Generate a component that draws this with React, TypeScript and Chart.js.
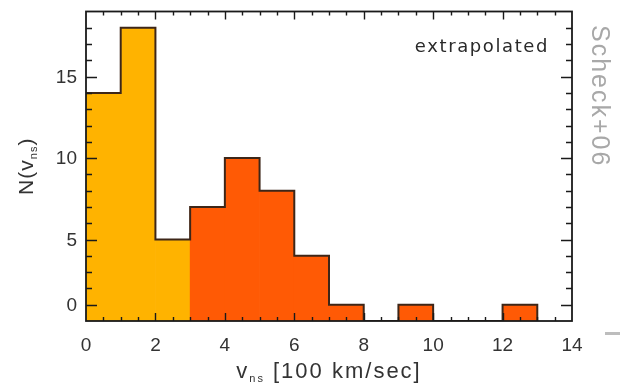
import React, { useEffect, useRef } from "react";
import { Chart, registerables } from "chart.js";

Chart.register(...registerables);

// ---- data ----
const binStarts = [0, 1, 2, 3, 4, 5, 6, 7, 8, 9, 10, 11, 12];
const counts = [14, 18, 5, 7, 10, 8, 4, 1, 0, 1, 0, 0, 1];
const binWidth = 1;
const splitAt = 3; // bins starting below this value use the light colour
const xTickValues = [0, 2, 4, 6, 8, 10, 12, 14];
const xTickLabels = ["0", "2", "4", "6", "8", "10", "12", "14"];
const yTickValues = [1, 5, 10, 15];
const yTickLabels = ["0", "5", "10", "15"];
const xMin = 0;
const xMax = 14;
const yMin = 0;
const yMax = 19;
const xMinorStep = 0.5;
const yMinorStep = 1;
const xTitle = { main: "v", sub: "ns", rest: " [100 km/sec]" };
const yTitle = { pre: "N(", main: "v", sub: "ns", post: ")" };
const annotationText = "extrapolated";
const creditText = "Scheck+06";

// ---- style ----
const lowColor = "#FFB300";
const highColor = "#FF5A05";
const stepColor = "#3d2618";
const frameColor = "#1a1a1a";
const textColor = "#333333";
const FONT = "'Liberation Sans', Arial, sans-serif";

const overlayPlugin = {
  id: "overlay",
  afterDraw(chart: any) {
    const { ctx, chartArea: a, scales } = chart;
    const xs = scales.x;
    const ys = scales.y;
    ctx.save();
    // inside ticks
    ctx.strokeStyle = frameColor;
    ctx.lineWidth = 1.4;
    ctx.beginPath();
    for (let v = xMin + xMinorStep; v < xMax - 1e-9; v += xMinorStep) {
      const px = Math.round(xs.getPixelForValue(v)) + 0.5;
      const major = xTickValues.includes(v);
      const len = major ? 8 : 4;
      ctx.moveTo(px, a.bottom);
      ctx.lineTo(px, a.bottom - len);
      ctx.moveTo(px, a.top);
      ctx.lineTo(px, a.top + len);
    }
    for (let v = yMin + yMinorStep; v < yMax - 1e-9; v += yMinorStep) {
      const py = Math.round(ys.getPixelForValue(v)) + 0.5;
      const major = yTickValues.includes(v);
      const len = major ? 11 : 6;
      ctx.moveTo(a.left, py);
      ctx.lineTo(a.left + len, py);
      ctx.moveTo(a.right, py);
      ctx.lineTo(a.right - len, py);
    }
    ctx.stroke();
    // frame
    ctx.lineWidth = 1.8;
    ctx.strokeRect(a.left, a.top, a.right - a.left, a.bottom - a.top);

    // tick labels
    ctx.fillStyle = textColor;
    ctx.font = `19px ${FONT}`;
    ctx.textBaseline = "middle";
    ctx.textAlign = "center";
    xTickValues.forEach((v, i) => {
      ctx.fillText(xTickLabels[i], xs.getPixelForValue(v), a.bottom + 25);
    });
    ctx.textAlign = "right";
    yTickValues.forEach((v, i) => {
      ctx.fillText(yTickLabels[i], a.left - 9, ys.getPixelForValue(v) + 1);
    });

    // x title
    ctx.textBaseline = "alphabetic";
    ctx.textAlign = "left";
    (ctx as any).letterSpacing = "2px";
    ctx.font = `22px ${FONT}`;
    const wMain = ctx.measureText(xTitle.main).width;
    const wRest = ctx.measureText(xTitle.rest).width;
    ctx.font = `11px ${FONT}`;
    const wSub = ctx.measureText(xTitle.sub).width;
    const total = wMain + wSub + wRest;
    let x0 = (a.left + a.right) / 2 - total / 2;
    const base = 378;
    ctx.font = `22px ${FONT}`;
    ctx.fillText(xTitle.main, x0, base);
    x0 += wMain;
    ctx.font = `11px ${FONT}`;
    ctx.fillText(xTitle.sub, x0, base + 4);
    x0 += wSub;
    ctx.font = `22px ${FONT}`;
    ctx.fillText(xTitle.rest, x0, base);

    // y title
    ctx.save();
    (ctx as any).letterSpacing = "1px";
    ctx.font = `21px ${FONT}`;
    const wPre = ctx.measureText(yTitle.pre).width;
    const wM = ctx.measureText(yTitle.main).width;
    const wPost = ctx.measureText(yTitle.post).width;
    ctx.font = `11px ${FONT}`;
    const wS = ctx.measureText(yTitle.sub).width;
    const ytot = wPre + wM + wS + wPost;
    const cy = (a.top + a.bottom) / 2;
    ctx.translate(33, cy + ytot / 2);
    ctx.rotate(-Math.PI / 2);
    let t = 0;
    ctx.font = `21px ${FONT}`;
    ctx.fillText(yTitle.pre + yTitle.main, t, 0);
    t += wPre + wM;
    ctx.font = `11px ${FONT}`;
    ctx.fillText(yTitle.sub, t, 4);
    t += wS;
    ctx.font = `21px ${FONT}`;
    ctx.fillText(yTitle.post, t, 0);
    ctx.restore();

    // annotation
    ctx.save();
    (ctx as any).letterSpacing = "1.6px";
    ctx.font = `18px 'DejaVu Sans', sans-serif`;
    ctx.fillStyle = "#2a2a2a";
    ctx.textAlign = "right";
    ctx.textBaseline = "alphabetic";
    ctx.fillText(annotationText, 549, 52);
    ctx.restore();

    // credit (rotated)
    ctx.save();
    (ctx as any).letterSpacing = "2px";
    ctx.font = `25px ${FONT}`;
    ctx.fillStyle = "#a8a8a8";
    ctx.translate(592, 25);
    ctx.rotate(Math.PI / 2);
    ctx.textAlign = "left";
    ctx.textBaseline = "alphabetic";
    ctx.fillText(creditText, 0, 0);
    ctx.restore();

    // small grey dash
    ctx.fillStyle = "#bdbdbd";
    ctx.fillRect(605, 332, 15, 3);
    ctx.restore();
  },
};

export default function App() {
  const ref = useRef<HTMLCanvasElement | null>(null);
  useEffect(() => {
    if (!ref.current) return;
    const barData = binStarts.map((s, i) => ({ x: s + binWidth / 2, y: counts[i] }));
    const barColors = binStarts.map((s) => (s < splitAt ? lowColor : highColor));
    const stepData = binStarts.map((s, i) => ({ x: s, y: counts[i] }));
    stepData.push({ x: binStarts[binStarts.length - 1] + binWidth, y: 0 });

    const chart = new Chart(ref.current, {
      type: "bar",
      data: {
        datasets: [
          {
            type: "line",
            data: stepData,
            stepped: "before",
            borderColor: stepColor,
            borderWidth: 2,
            pointRadius: 0,
            fill: false,
            order: 0,
          } as any,
          {
            type: "bar",
            data: barData,
            backgroundColor: barColors,
            borderWidth: 0,
            barPercentage: 1,
            categoryPercentage: 1,
            order: 1,
          } as any,
        ],
      },
      options: {
        animation: false,
        responsive: true,
        maintainAspectRatio: false,
        layout: { padding: { top: 11.5, right: 48, left: 86, bottom: 67 } },
        plugins: { legend: { display: false }, tooltip: { enabled: false } },
        scales: {
          x: {
            type: "linear",
            display: false,
            min: xMin,
            max: xMax,
            offset: false,
          },
          y: {
            type: "linear",
            display: false,
            min: yMin,
            max: yMax,
          },
        },
      } as any,
      plugins: [overlayPlugin],
    });
    return () => chart.destroy();
  }, []);

  return (
    <div style={{ position: "fixed", left: 0, top: 0, width: 620, height: 388, background: "#fff" }}>
      <canvas ref={ref} />
    </div>
  );
}
